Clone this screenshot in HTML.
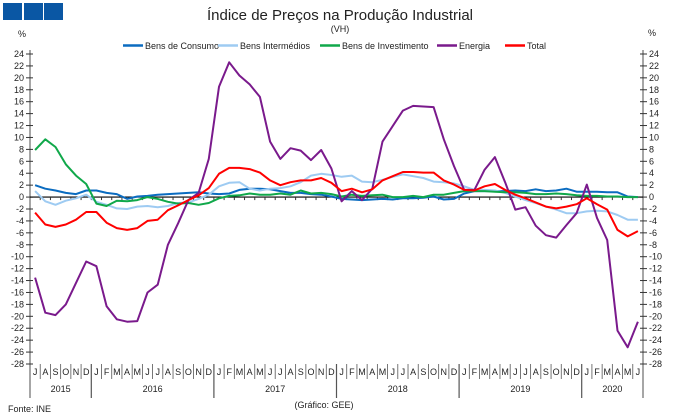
<!DOCTYPE html>
<html><head><meta charset="utf-8"><style>
body{margin:0;background:#fff;}
svg{display:block;font-family:"Liberation Sans",Arial,sans-serif;}
</style></head><body>
<svg id="chart" width="679" height="418" viewBox="0 0 679 418">
<rect x="3" y="3" width="19" height="17" fill="#0a57a4"/>
<rect x="24" y="3" width="19" height="17" fill="#0a57a4"/>
<rect x="44" y="3" width="19" height="17" fill="#0a57a4"/>
<text x="340" y="20" font-size="15" text-anchor="middle" fill="#222">Índice de Preços na Produção Industrial</text>
<text x="340" y="32" font-size="9" text-anchor="middle" fill="#222">(VH)</text>
<text x="18" y="37" font-size="9" fill="#222">%</text>
<text x="648" y="36" font-size="9" fill="#222">%</text>
<text x="8" y="412" font-size="9" fill="#222">Fonte: INE</text>
<text x="324" y="408" font-size="9" text-anchor="middle" fill="#222">(Gráfico: GEE)</text>
<g id="grid"></g><g id="legend"></g><g id="series"></g>
</svg>
<script>
const months=["J","A","S","O","N","D","J","F","M","A","M","J","J","A","S","O","N","D","J","F","M","A","M","J","J","A","S","O","N","D","J","F","M","A","M","J","J","A","S","O","N","D","J","F","M","A","M","J","J","A","S","O","N","D","J","F","M","A","M","J"];
const years=["2015","2016","2017","2018","2019","2020"];
const yTicks=[24,22,20,18,16,14,12,10,8,6,4,2,0,-2,-4,-6,-8,-10,-12,-14,-16,-18,-20,-22,-24,-26,-28];
const seriesNames=["Bens de Consumo","Bens Intermédios","Bens de Investimento","Energia","Total"];
const consumo=[2.0,1.4,1.1,0.7,0.5,1.1,1.1,0.7,0.5,-0.3,0.1,0.2,0.4,0.5,0.6,0.7,0.8,0.6,0.5,0.6,1.2,1.4,1.4,1.3,1.0,0.7,0.7,0.5,0.4,0.1,-0.3,-0.4,-0.5,-0.4,-0.3,-0.4,-0.2,-0.2,-0.1,0.1,-0.4,-0.3,0.6,1.0,1.0,1.0,1.0,1.1,1.0,1.3,1.0,1.1,1.4,0.9,0.9,0.9,0.8,0.8,0.1,0.0];
const intermedios=[1.0,-0.7,-1.3,-0.6,-0.2,0.4,-0.8,-1.3,-1.9,-2.0,-1.6,-1.5,-1.7,-1.5,-1.0,-0.9,-0.3,0.4,1.8,2.4,2.5,1.4,1.1,1.4,1.5,1.8,2.5,3.6,3.9,3.7,3.4,3.6,2.6,2.5,2.9,3.4,3.8,3.5,3.2,2.6,2.5,2.3,1.8,1.2,1.2,1.1,0.7,0.1,-0.5,-1.0,-1.6,-2.1,-2.7,-2.7,-2.4,-2.3,-2.4,-3.0,-3.8,-3.8];
const investimento=[7.9,9.7,8.4,5.5,3.6,2.2,-1.1,-1.5,-0.6,-0.7,-0.5,0.0,-0.3,-0.8,-1.1,-1.0,-1.3,-1.0,-0.2,0.2,0.3,0.6,0.4,0.4,0.6,0.4,1.1,0.6,0.7,0.5,0.1,0.4,0.2,0.3,0.4,0.0,0.0,0.2,0.0,0.4,0.4,0.7,1.0,1.0,1.0,0.9,0.8,0.8,0.7,0.5,0.5,0.6,0.5,0.3,0.2,0.2,0.1,0.1,0.0,0.0];
const energia=[-13.5,-19.4,-19.8,-18.0,-14.4,-10.8,-11.6,-18.3,-20.5,-20.9,-20.8,-16.0,-14.7,-8.0,-4.4,-0.5,0.7,6.4,18.5,22.6,20.4,18.9,16.8,9.3,6.4,8.2,7.8,6.2,7.9,4.8,-0.7,1.0,-0.5,1.4,9.3,11.9,14.5,15.3,15.2,15.1,9.7,5.2,1.2,1.2,4.6,6.7,2.5,-2.1,-1.7,-4.8,-6.4,-6.8,-4.7,-2.7,2.1,-3.5,-7.2,-22.4,-25.2,-20.9];
const total=[-2.6,-4.6,-5.0,-4.6,-3.8,-2.5,-2.5,-4.3,-5.2,-5.5,-5.2,-4.0,-3.8,-2.2,-1.4,-0.5,0.3,1.5,3.9,4.9,4.9,4.7,4.1,2.8,2.0,2.5,2.8,2.8,3.2,2.4,1.0,1.4,0.8,1.3,2.8,3.5,4.2,4.2,4.1,4.1,2.8,2.1,1.2,1.1,1.8,2.2,1.2,0.4,-0.2,-0.9,-1.6,-1.9,-1.6,-1.2,-0.2,-1.2,-2.1,-5.5,-6.6,-5.7];
const colors=["#0b6cc0","#9ecbf2","#10a84a","#7a1a8c","#ff0000"];
const NS="http://www.w3.org/2000/svg";
const X0=30,X1=643,Y0=54,Y1=364,VMAX=24,VMIN=-28;
const cw=(X1-X0)/months.length;
function xs(i){return X0+cw*(i+0.5);}
function ys(v){return Y0+(VMAX-v)/(VMAX-VMIN)*(Y1-Y0);}
function mk(tag,attrs,parent){const e=document.createElementNS(NS,tag);for(const k in attrs)e.setAttribute(k,attrs[k]);parent.appendChild(e);return e;}
const grid=document.getElementById('grid');
const axL=mk('line',{x1:X0,y1:Y0-4,x2:X0,y2:398,stroke:'#888','stroke-width':1.5},grid);


const axR=mk('line',{x1:X1,y1:Y0-4,x2:X1,y2:398,stroke:'#888','stroke-width':1.5},grid);


yTicks.forEach(v=>{
  const y=ys(v);
  mk('line',{x1:X0-4,y1:y,x2:X0+3,y2:y,stroke:'#333'},grid);
  mk('line',{x1:X1-3,y1:y,x2:X1+4,y2:y,stroke:'#333'},grid);
  const t=mk('text',{x:X0-6,y:y+3,'font-size':9,'text-anchor':'end',fill:'#222'},grid);t.textContent=v;
  
  
  const t2=mk('text',{x:X1+6,y:y+3,'font-size':9,fill:'#222'},grid);t2.textContent=v;
  
  
});
const zl=mk('line',{x1:X0,y1:ys(0),x2:X1,y2:ys(0),stroke:'#000','stroke-width':1.2},grid);


months.forEach((m,i)=>{
  const x=X0+cw*i;
  if(i>0){const yb=(i%12===6)?398:379;mk('line',{x1:x,y1:364,x2:x,y2:yb,stroke:'#555','stroke-width':(i%12===6)?1.2:0.8},grid);}
  if(i>0)mk('line',{x1:x,y1:ys(0),x2:x,y2:ys(0)+3,stroke:'#333'},grid);
  const t=mk('text',{x:xs(i),y:375,'font-size':9,'text-anchor':'middle',fill:'#222'},grid);t.textContent=m;
  
  
});
years.forEach((yv,k)=>{
  const s=k===0?0:6+12*(k-1), e=k===0?6:Math.min(s+12,months.length);
  const t=mk('text',{x:(X0+cw*s+X0+cw*e)/2,y:392,'font-size':9,'text-anchor':'middle',fill:'#222'},grid);t.textContent=yv;
  
  
});
const leg=document.getElementById('legend');
const legX=[123,218,320,437,505];
seriesNames.forEach((n,k)=>{
  const g=mk('g',{},leg);
  
  
  mk('line',{x1:legX[k],y1:45.5,x2:legX[k]+20,y2:45.5,stroke:colors[k],'stroke-width':2.5},g);
  const t=mk('text',{x:legX[k]+22,y:49,'font-size':9,fill:'#222'},g);t.textContent=n;
});
const ser=document.getElementById('series');
[consumo,intermedios,investimento,energia,total].forEach((arr,k)=>{
  const p=mk('polyline',{points:arr.map((v,i)=>xs(i).toFixed(1)+','+ys(v).toFixed(1)).join(' '),fill:'none',stroke:colors[k],'stroke-width':2,'stroke-linejoin':'round'},ser);
  
  
});
</script>
</body></html>
